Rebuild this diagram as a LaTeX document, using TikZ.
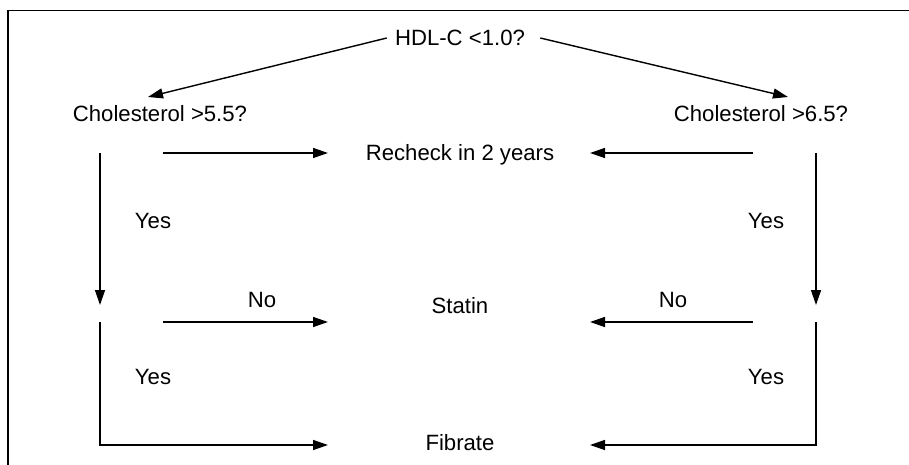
\documentclass[tikz,border=0pt]{standalone}
\usepackage{fontspec}
\setmainfont{Liberation Sans}
\usetikzlibrary{positioning, arrows.meta, calc}

\tikzset{
  lbl/.style={font=\fontsize{12.6}{15}\selectfont, inner sep=0pt},
  arr/.style={-{Triangle[length=0.3cm,width=0.2cm]}, line width=0.8pt},
  ln/.style={line width=0.8pt},
}

\begin{document}
\begin{tikzpicture}[x=0.02cm, y=-0.02cm]
            \useasboundingbox (0,0) rectangle (909,465);
            % frame, open at the right and bottom
            \draw[line width=1pt] (8,465) -- (8,10.5) -- (909,10.5);

            % decisions and outcomes
            \node[lbl] (hdl) at (460,38) {HDL-C <1.0?};
            \node[lbl] (c55) at (160,114) {Cholesterol >5.5?};
            \node[lbl] (c65) at (761,114) {Cholesterol >6.5?};
            \node[lbl] (recheck) at (460,155) {Recheck in 2 years};
            \node[lbl] (statin) at (460,306) {Statin};
            \node[lbl] (fibrate) at (460,443) {Fibrate};

            % branch labels
            \node[lbl] (yesL1) at (153,221) {Yes};
            \node[lbl] (yesL2) at (153,377) {Yes};
            \node[lbl] (yesR1) at (766,221) {Yes};
            \node[lbl] (yesR2) at (766,377) {Yes};
            \node[lbl] (noL) at (262,300) {No};
            \node[lbl] (noR) at (673,300) {No};

            % connector ends
            \coordinate (inL) at (148,97);
            \coordinate (inR) at (788,97);
            \coordinate (L1) at (100,153); \coordinate (L2) at (100,305);
            \coordinate (L3) at (100,322); \coordinate (L4) at (100,445);
            \coordinate (R1) at (816,153); \coordinate (R2) at (816,305);
            \coordinate (R3) at (816,322); \coordinate (R4) at (816,445);
            \coordinate (srcL) at (163,0); \coordinate (tipL) at (328,0);
            \coordinate (srcR) at (753,0); \coordinate (tipR) at (590,0);

            % top split
            \draw[arr] ([xshift=-0.16cm]hdl.west) -- (inL);
            \draw[arr] ([xshift=0.3cm]hdl.east) -- (inR);

            % left column
            \draw[arr] (L1) -- (L2);
            \draw[arr] (srcL |- L1) -- (tipL |- L1);
            \draw[arr] (srcL |- L3) -- (tipL |- L3);
            \draw[arr] (L3) -- (L4) -- (tipL |- L4);

            % right column
            \draw[arr] (R1) -- (R2);
            \draw[arr] (srcR |- R1) -- (tipR |- R1);
            \draw[arr] (srcR |- R3) -- (tipR |- R3);
            \draw[arr] (R3) -- (R4) -- (tipR |- R4);
\end{tikzpicture}
\end{document}
